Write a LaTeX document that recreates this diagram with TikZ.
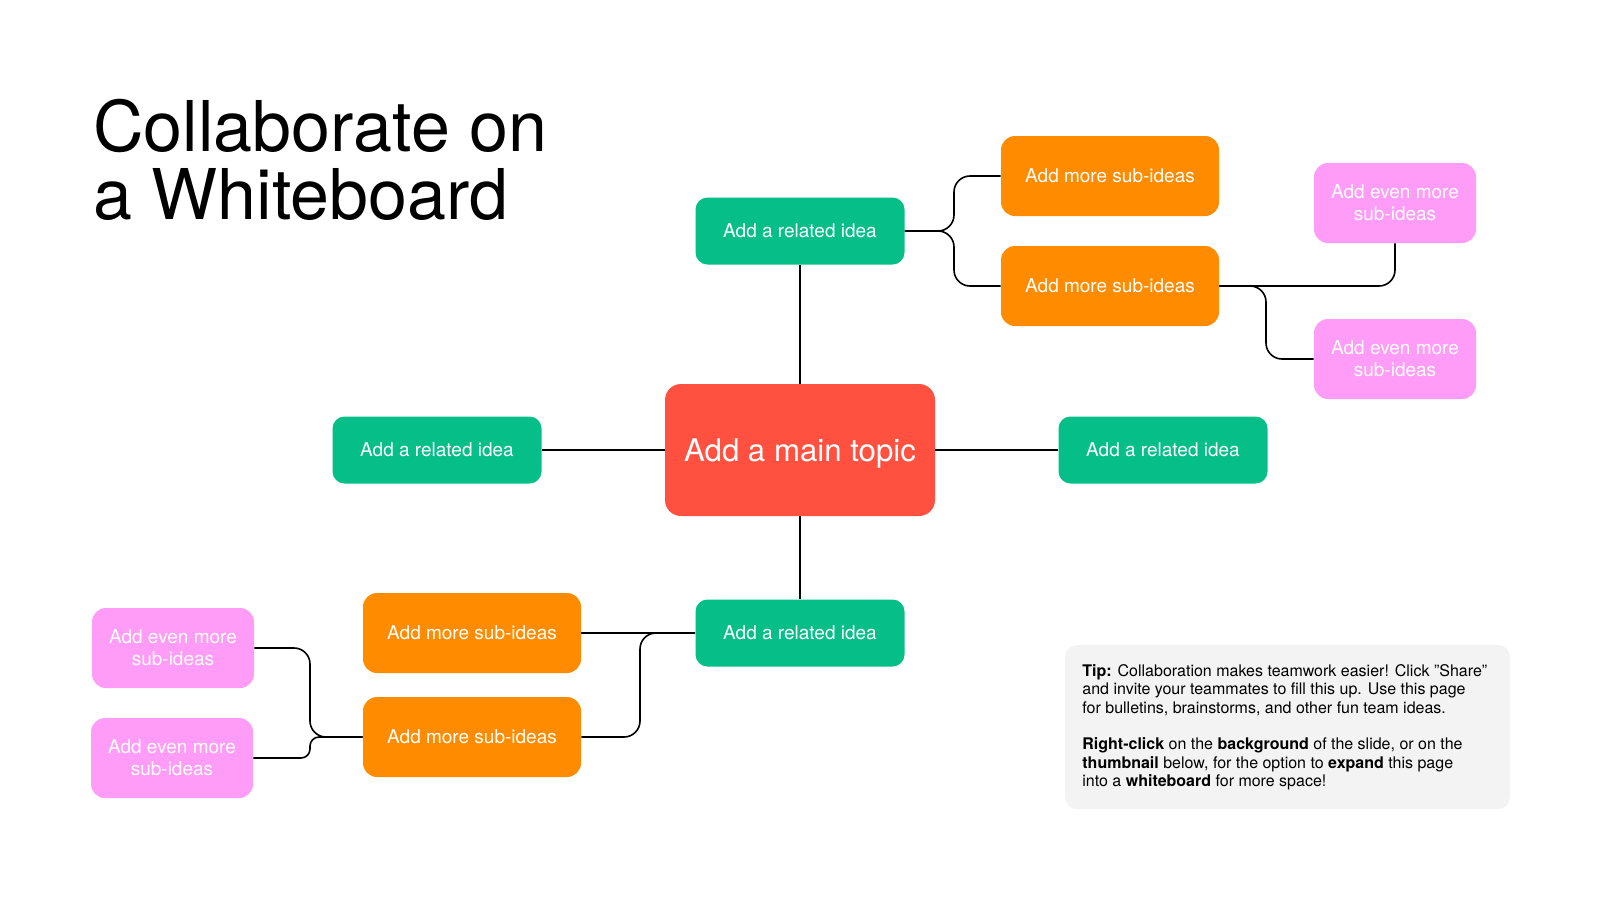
\documentclass[tikz,border=0pt]{standalone}
\usepackage{fontspec}
\setmainfont{TeX Gyre Heros}
\definecolor{ideagreen}{HTML}{06BF88}
\definecolor{suborange}{HTML}{FF8B00}
\definecolor{topicred}{HTML}{FF5040}
\definecolor{evenpink}{HTML}{FF9CF7}
\definecolor{tipgray}{HTML}{F3F3F3}

\begin{document}
\begin{tikzpicture}[x=0.5pt,y=-0.5pt,
  box/.style={text=white,inner sep=0pt,align=center,font=\fontsize{9.5}{11.2}\selectfont},
  topic/.style={box,fill=topicred,rounded corners=8pt,minimum width=135pt,minimum height=66pt,font=\fontsize{15.6}{18}\selectfont},
  idea/.style={box,fill=ideagreen,rounded corners=6pt,minimum width=104.5pt,minimum height=33.5pt},
  subidea/.style={box,fill=suborange,rounded corners=7pt,minimum width=109pt,minimum height=40pt},
  evenmore/.style={box,fill=evenpink,rounded corners=7pt,minimum width=81pt,minimum height=40pt},
  link/.style={draw=black,line width=0.8pt,rounded corners=8pt}]
\useasboundingbox (0,0) rectangle (1600,900);

\node[anchor=north west,inner sep=0pt,align=left,font=\fontsize{35}{34}\selectfont] (title) at (93,99) {Collaborate on\\a Whiteboard};

\node[topic,text depth=0pt] (main) at (800,450) {Add a main topic};

\node[idea] (up) at (800,231) {Add a related idea};
\node[idea] (left) at (437,450) {Add a related idea};
\node[idea] (right) at (1163,450) {Add a related idea};
\node[idea] (down) at (800,633) {Add a related idea};

\node[subidea] (up1) at (1110,176) {Add more sub-ideas};
\node[subidea] (up2) at (1110,286) {Add more sub-ideas};
\node[subidea] (dn1) at (472,633) {Add more sub-ideas};
\node[subidea] (dn2) at (472,737) {Add more sub-ideas};

\node[evenmore] (up3) at (1395,203) {Add even more\\sub-ideas};
\node[evenmore] (up4) at (1395,359) {Add even more\\sub-ideas};
\node[evenmore] (dn3) at (173,648) {Add even more\\sub-ideas};
\node[evenmore] (dn4) at (172,758) {Add even more\\sub-ideas};

\coordinate (jup) at (954,231);
\coordinate (jright) at (1266,286);
\coordinate (jdown) at (640,633);
\coordinate (jleft) at (310,737);

\draw[link] (main) -- (up);
\draw[link] (main) -- (left);
\draw[link] (main) -- (right);
\draw[link] (main) -- (down);

\draw[link] (up.east) -- (jup) |- (up1.west);
\draw[link] (up.east) -- (jup) |- (up2.west);
\draw[link] (up2.east) -| (up3.south);
\draw[link] (up2.east) -- (jright) |- (up4.west);

\draw[link] (down.west) -- (dn1.east);
\draw[link] (down.west) -- (jdown) |- (dn2.east);
\draw[link] (dn2.west) -- (jleft) |- (dn3.east);
\draw[link,rounded corners=4.5pt] (dn2.west) -- (jleft) |- (dn4.east);

\node[fill=tipgray,rounded corners=6pt,inner sep=0pt,minimum width=222.5pt,minimum height=82pt] (tipbg) at (1287.5,727) {};
\node[anchor=north west,inner sep=0pt,align=left,font=\fontsize{8}{9.2}\selectfont] (tip) at (1082,664) {\textbf{Tip:} Collaboration makes teamwork easier! Click \char34 Share\char34\\
and invite your teammates to fill this up. Use this page\\
for bulletins, brainstorms, and other fun team ideas.\\[9.2pt]
\textbf{Right-click} on the \textbf{background} of the slide, or on the\\
\textbf{thumbnail} below, for the option to \textbf{expand} this page\\
into a \textbf{whiteboard} for more space!};

\end{tikzpicture}
\end{document}
